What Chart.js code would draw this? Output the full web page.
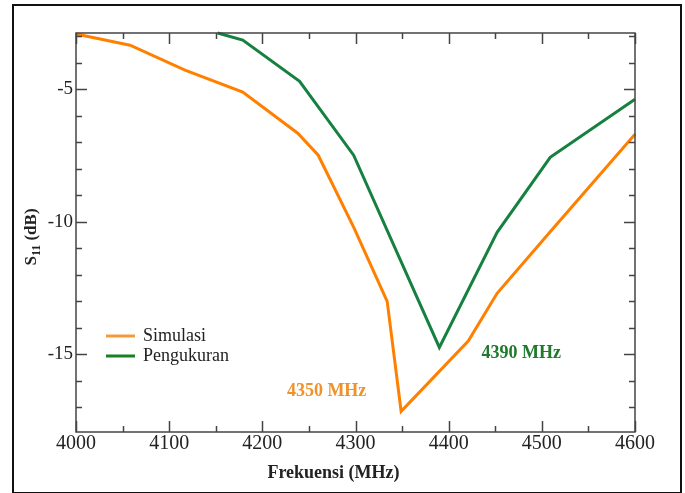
<!DOCTYPE html>
<html>
<head>
<meta charset="utf-8">
<script src="https://cdn.jsdelivr.net/npm/chart.js@4.4.0/dist/chart.umd.min.js"></script>
<style>
  html, body { margin: 0; padding: 0; background: #fff; }
  #wrap { position: relative; width: 685px; height: 493px; }
  #frame { position: absolute; left: 12px; top: 4px; width: 666px; height: 486px; border: 2px solid #111; pointer-events: none; }
</style>
</head>
<body>
<div id="wrap">
  <canvas id="s11Chart" width="685" height="493"></canvas>
  <div id="frame"></div>
</div>
<script>
const simFreq = [4000, 4058, 4117, 4179, 4238, 4260, 4298, 4334, 4349, 4421, 4452, 4506, 4600];
const simS11 = [-2.92, -3.34, -4.28, -5.11, -6.66, -7.49, -10.2, -13.0, -17.15, -14.5, -12.7, -10.5, -6.7];

const measFreq = [4152, 4179, 4240, 4298, 4390, 4452, 4509, 4600];
const measS11 = [-2.88, -3.15, -4.7, -7.49, -14.74, -10.4, -7.57, -5.38];

const xTickValues = [4000, 4100, 4200, 4300, 4400, 4500, 4600];
const yTickValues = [-15, -10, -5];

const seriesNames = ['Simulasi', 'Pengukuran'];
const annotations = [
  { text: '4350 MHz', x: 4269, y: -16.4, color: '#F0922B' },
  { text: '4390 MHz', x: 4478, y: -14.96, color: '#1F7A2C' }
];

const serif = '"Liberation Serif", "Times New Roman", serif';
const textColor = '#222222';

function toPoints(xs, ys) {
  return xs.map((x, i) => ({ x, y: ys[i] }));
}

const framePlugin = {
  id: 'framePlugin',
  afterDraw(chart) {
    const { ctx, chartArea, scales } = chart;
    const xs = scales.x;
    const ys = scales.y;
    const { left, right, top, bottom } = chartArea;

    ctx.save();
    // axis box
    ctx.strokeStyle = '#444';
    ctx.lineWidth = 1.5;
    ctx.strokeRect(left, top, right - left, bottom - top);

    // inward ticks, minor every 50 MHz / 1 dB
    ctx.beginPath();
    for (let v = xs.min; v <= xs.max; v += 50) {
      const px = Math.round(xs.getPixelForValue(v)) + 0.5;
      const len = v % 100 === 0 ? 11 : 6;
      ctx.moveTo(px, bottom); ctx.lineTo(px, bottom - len);
      ctx.moveTo(px, top); ctx.lineTo(px, top + len);
    }
    for (let v = Math.ceil(ys.min); v <= Math.floor(ys.max); v += 1) {
      const py = Math.round(ys.getPixelForValue(v)) + 0.5;
      const len = v % 5 === 0 ? 11 : 6;
      ctx.moveTo(left, py); ctx.lineTo(left + len, py);
      ctx.moveTo(right, py); ctx.lineTo(right - len, py);
    }
    ctx.stroke();

    // x title
    ctx.fillStyle = textColor;
    ctx.font = 'bold 18px ' + serif;
    ctx.textAlign = 'center';
    ctx.textBaseline = 'middle';
    ctx.fillText('Frekuensi (MHz)', (left + right) / 2 - 22, 473);

    // y title with subscript
    ctx.save();
    ctx.translate(30, 237);
    ctx.rotate(-Math.PI / 2);
    const big = 'bold 17px ' + serif;
    const small = 'bold 12px ' + serif;
    ctx.font = big; const wS = ctx.measureText('S').width;
    ctx.font = small; const w11 = ctx.measureText('11').width;
    ctx.font = big; const wRest = ctx.measureText(' (dB)').width;
    let x0 = -(wS + w11 + wRest) / 2;
    ctx.textAlign = 'left';
    ctx.textBaseline = 'alphabetic';
    ctx.font = big; ctx.fillText('S', x0, 6);
    ctx.font = small; ctx.fillText('11', x0 + wS, 10);
    ctx.font = big; ctx.fillText(' (dB)', x0 + wS + w11, 6);
    ctx.restore();

    // legend
    const legendColors = ['#F29B38', '#17801F'];
    ctx.font = '18px ' + serif;
    ctx.textAlign = 'left';
    ctx.textBaseline = 'middle';
    seriesNames.forEach((name, i) => {
      const ly = top + 303 + i * 20;
      ctx.strokeStyle = legendColors[i];
      ctx.lineWidth = 3;
      ctx.beginPath();
      ctx.moveTo(left + 30, ly); ctx.lineTo(left + 59, ly);
      ctx.stroke();
      ctx.fillStyle = textColor;
      ctx.fillText(name, left + 67, ly);
    });

    // frequency labels
    ctx.font = 'bold 18px ' + serif;
    ctx.textAlign = 'center';
    annotations.forEach(a => {
      ctx.fillStyle = a.color;
      ctx.fillText(a.text, xs.getPixelForValue(a.x), ys.getPixelForValue(a.y));
    });
    ctx.restore();
  }
};

new Chart(document.getElementById('s11Chart').getContext('2d'), {
  type: 'line',
  data: {
    datasets: [
      {
        label: seriesNames[0],
        data: toPoints(simFreq, simS11),
        borderColor: '#FF8000',
        backgroundColor: 'transparent',
        borderWidth: 3,
        pointRadius: 0,
        fill: false,
        clip: 4
      },
      {
        label: seriesNames[1],
        data: toPoints(measFreq, measS11),
        borderColor: '#168040',
        backgroundColor: 'transparent',
        borderWidth: 3,
        pointRadius: 0,
        fill: false,
        clip: 4
      }
    ]
  },
  options: {
    responsive: false,
    animation: false,
    layout: { padding: { left: 0, top: 33, right: 50, bottom: 0 } },
    scales: {
      x: {
        type: 'linear',
        min: 4000,
        max: 4600,
        afterBuildTicks: s => { s.ticks = xTickValues.map(v => ({ value: v })); },
        afterFit: s => { s.height = 61; },
        grid: { display: false, drawTicks: false },
        border: { display: false },
        ticks: {
          color: textColor,
          font: { family: serif, size: 20 },
          padding: 0,
          maxRotation: 0,
          callback: v => String(v)
        }
      },
      y: {
        type: 'linear',
        min: -17.93,
        max: -2.88,
        afterBuildTicks: s => { s.ticks = yTickValues.map(v => ({ value: v })); },
        afterFit: s => { s.width = 76; },
        grid: { display: false, drawTicks: false },
        border: { display: false },
        ticks: {
          color: textColor,
          font: { family: serif, size: 19 },
          padding: 3,
          callback: v => String(v)
        }
      }
    },
    plugins: {
      legend: { display: false },
      tooltip: { enabled: false }
    },
    elements: {
      line: { tension: 0 }
    }
  },
  plugins: [framePlugin]
});
</script>
</body>
</html>
